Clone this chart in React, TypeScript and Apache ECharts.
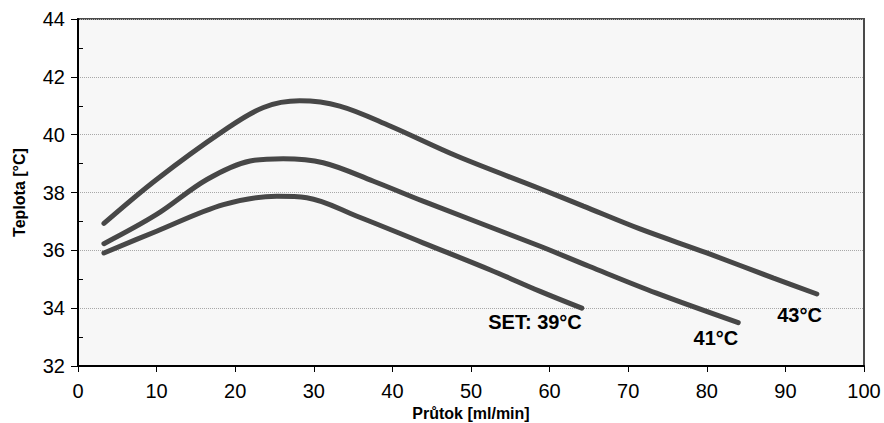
import React, { useEffect, useRef } from "react";
import * as echarts from "echarts";

const flow39 = [3.3, 10, 18.5, 25.3, 29.1, 35.5, 43.9, 52.4, 58.8, 64.1];
const temp39 = [35.91, 36.66, 37.58, 37.87, 37.82, 37.18, 36.26, 35.33, 34.58, 34.0];
const flow41 = [3.3, 10, 16.4, 21.9, 26.1, 31.2, 37.6, 43.9, 58.8, 65.1, 73.6, 84];
const temp41 = [36.23, 37.24, 38.45, 39.09, 39.17, 39.03, 38.39, 37.7, 36.14, 35.44, 34.52, 33.5];
const flow43 = [3.3, 10, 18.5, 23.6, 28.2, 33.3, 39.7, 48.2, 58.8, 64.3, 71.5, 80, 88.5, 94];
const temp43 = [36.93, 38.45, 40.13, 40.94, 41.17, 40.99, 40.3, 39.26, 38.13, 37.53, 36.74, 35.91, 35.04, 34.49];
const seriesNames = ["SET: 39°C", "41°C", "43°C"];
const xTicks = { min: 0, max: 100, interval: 10 };
const yTicks = { min: 32, max: 44, interval: 2 };

const zip = (xs: number[], ys: number[]) => xs.map((x, i) => [x, ys[i]]);

export default function App() {
  const ref = useRef<HTMLDivElement>(null);
  useEffect(() => {
    if (!ref.current) return;
    document.body.style.margin = "0";
    const chart = echarts.init(ref.current, null, { renderer: "svg" });
    const lineColor = "#474747";
    const font = "Liberation Sans";
    const labelOffsets: [number, number][] = [
      [0, 14],
      [0, 15],
      [5, 21],
    ];
    const datasets = [zip(flow39, temp39), zip(flow41, temp41), zip(flow43, temp43)];
    chart.setOption({
      animation: false,
      grid: {
        left: 78,
        right: 20,
        top: 19,
        bottom: 57,
        containLabel: false,
        outerBoundsMode: "none",
        show: true,
        backgroundColor: "#f7f7f7",
        borderColor: "#4a4a4a",
        borderWidth: 2,
      },
      xAxis: {
        type: "value",
        min: xTicks.min,
        max: xTicks.max,
        interval: xTicks.interval,
        name: "Průtok [ml/min]",
        nameLocation: "middle",
        nameGap: 36,
        nameTextStyle: { fontFamily: font, fontWeight: "bold", fontSize: 16, color: "#000" },
        axisLine: { show: true, lineStyle: { color: "#000", width: 2 } },
        axisTick: { show: true, length: 6, lineStyle: { color: "#000" } },
        axisLabel: { fontFamily: font, fontSize: 20, color: "#000", margin: 15 },
        splitLine: { show: false },
      },
      yAxis: [
        {
          type: "value",
          min: yTicks.min,
          max: yTicks.max,
          interval: yTicks.interval,
          name: "Teplota [°C]",
          nameLocation: "middle",
          nameGap: 51,
          nameTextStyle: { fontFamily: font, fontWeight: "bold", fontSize: 16, color: "#000" },
          axisLine: { show: true, lineStyle: { color: "#000", width: 2 } },
          axisTick: { show: true, length: 7, lineStyle: { color: "#000" } },
          axisLabel: { fontFamily: font, fontSize: 20, color: "#000", margin: 13 },
          splitLine: { show: true, lineStyle: { color: "#a8a8a8", type: "dotted", width: 1 } },
        },
        {
          type: "value",
          position: "left",
          min: yTicks.min,
          max: yTicks.max,
          interval: yTicks.interval,
          axisLine: { show: false },
          axisTick: { show: false, inside: true },
          minorTick: { show: true, splitNumber: 2, length: 5, lineStyle: { color: "#000" } },
          axisLabel: { show: false },
          splitLine: { show: false },
        },
      ],
      series: datasets.map((d, i) => ({
        type: "line",
        name: seriesNames[i],
        data: d,
        smooth: 0.35,
        showSymbol: false,
        symbol: "none",
        lineStyle: { color: lineColor, width: 5, cap: "round" },
        endLabel: {
          show: true,
          formatter: seriesNames[i],
          distance: 0,
          align: "right",
          verticalAlign: "middle",
          offset: labelOffsets[i],
          fontFamily: font,
          fontWeight: "bold",
          fontSize: 20,
          color: "#000",
        },
        z: 3,
      })),
    });
    return () => chart.dispose();
  }, []);
  return <div ref={ref} style={{ width: 884, height: 423 }} />;
}
